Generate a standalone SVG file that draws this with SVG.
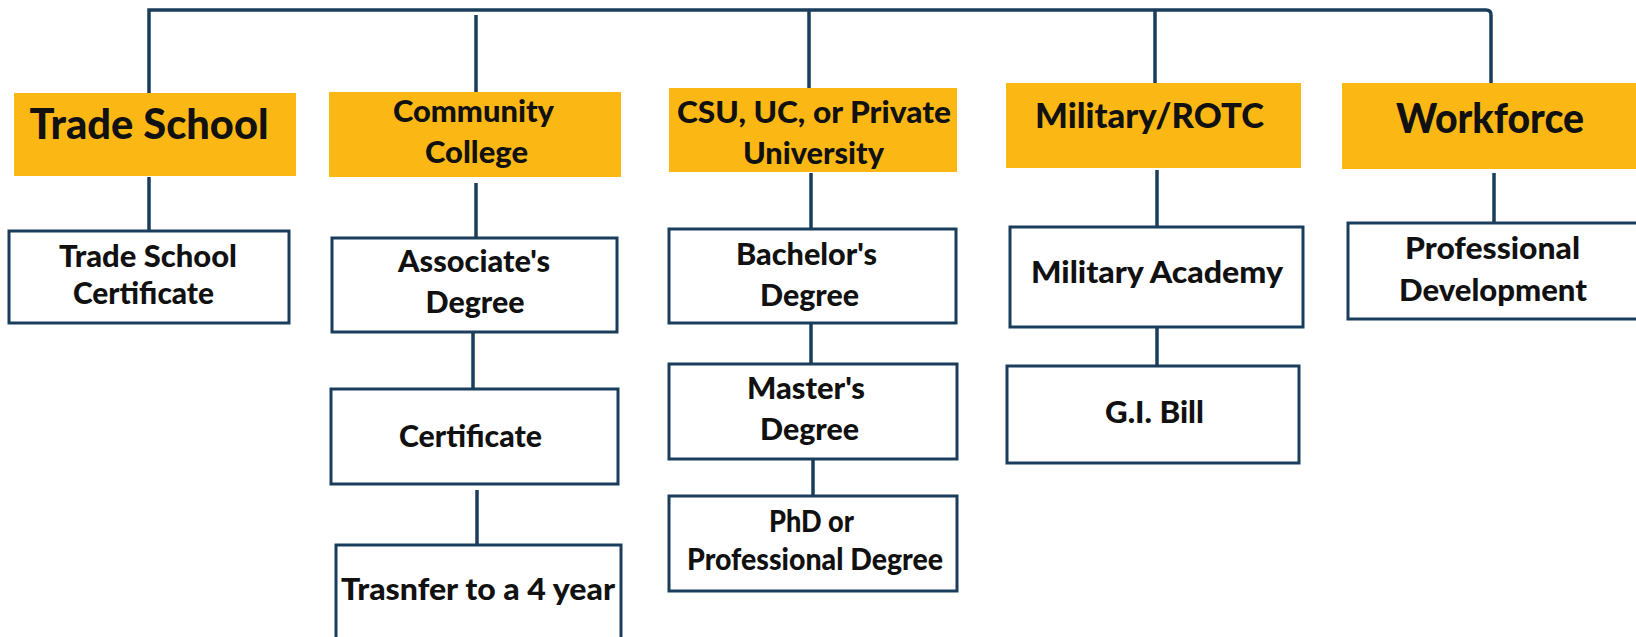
<svg xmlns="http://www.w3.org/2000/svg" width="1636" height="637" viewBox="0 0 1636 637">
<style>
.hdr{fill:#FBB814;stroke:none}
.box{fill:#FFFFFF;stroke:#1A3D5C;stroke-width:3}
.ln{fill:none;stroke:#1A3D5C;stroke-width:3.5;stroke-linecap:butt}
text{font-family:Lato,"Liberation Sans",sans-serif;font-weight:900;fill:#111111;text-anchor:middle}
.t30{font-size:30px}
.t31{font-size:31px}
</style>
<rect width="1636" height="637" fill="#FFFFFF"/>
<g id="connectors">
<path class="ln" d="M149,93 V10 H1486 Q1491,10 1491,15 V83"/>
<line class="ln" x1="476" y1="15" x2="476" y2="92"/>
<line class="ln" x1="809" y1="10" x2="809" y2="88"/>
<line class="ln" x1="1155" y1="10" x2="1155" y2="83"/>
<line class="ln" x1="149" y1="177" x2="149" y2="231"/>
<line class="ln" x1="476" y1="183" x2="476" y2="238"/>
<line class="ln" x1="473" y1="332" x2="473" y2="389"/>
<line class="ln" x1="477" y1="490" x2="477" y2="545"/>
<line class="ln" x1="811" y1="173" x2="811" y2="229"/>
<line class="ln" x1="811" y1="323" x2="811" y2="364"/>
<line class="ln" x1="813" y1="459" x2="813" y2="496"/>
<line class="ln" x1="1157" y1="170" x2="1157" y2="227"/>
<line class="ln" x1="1157" y1="327" x2="1157" y2="366"/>
<line class="ln" x1="1494" y1="173" x2="1494" y2="223"/>
</g>
<g id="trade-school">
<rect class="hdr" x="14" y="93" width="282" height="83"/>
<text x="149" y="139" font-size="42" textLength="239" lengthAdjust="spacingAndGlyphs">Trade School</text>
</g>
<g id="community-college">
<rect class="hdr" x="329" y="92" width="292" height="85"/>
<text class="t30" x="473.5" y="122" textLength="161" lengthAdjust="spacingAndGlyphs">Community</text>
<text class="t30" x="476.5" y="163" textLength="103" lengthAdjust="spacingAndGlyphs">College</text>
</g>
<g id="university">
<rect class="hdr" x="669" y="88" width="288" height="84"/>
<text class="t30" x="814" y="123" textLength="274" lengthAdjust="spacingAndGlyphs">CSU, UC, or Private</text>
<text class="t30" x="813.5" y="164" textLength="141" lengthAdjust="spacingAndGlyphs">University</text>
</g>
<g id="military">
<rect class="hdr" x="1006" y="83" width="295" height="85"/>
<text x="1149.5" y="128" font-size="35" textLength="229" lengthAdjust="spacingAndGlyphs">Military/ROTC</text>
</g>
<g id="workforce">
<rect class="hdr" x="1342" y="83" width="296" height="86"/>
<text x="1490" y="133" font-size="41" textLength="188" lengthAdjust="spacingAndGlyphs">Workforce</text>
</g>
<g id="trade-school-certificate">
<rect class="box" x="9" y="231" width="280" height="92"/>
<text class="t31" x="148" y="267" textLength="178" lengthAdjust="spacingAndGlyphs">Trade School</text>
<text class="t31" x="143.5" y="304" textLength="141" lengthAdjust="spacingAndGlyphs">Certificate</text>
</g>
<g id="associates-degree">
<rect class="box" x="332" y="238" width="285" height="94"/>
<text class="t31" x="474" y="272" textLength="152" lengthAdjust="spacingAndGlyphs">Associate's</text>
<text class="t31" x="475" y="313" textLength="99" lengthAdjust="spacingAndGlyphs">Degree</text>
</g>
<g id="certificate">
<rect class="box" x="331" y="389" width="287" height="95"/>
<text class="t31" x="470.5" y="447" textLength="143" lengthAdjust="spacingAndGlyphs">Certificate</text>
</g>
<g id="transfer">
<rect class="box" x="336" y="545" width="285" height="100"/>
<text class="t31" x="478" y="600" textLength="274" lengthAdjust="spacingAndGlyphs">Trasnfer to a 4 year</text>
</g>
<g id="bachelors-degree">
<rect class="box" x="669" y="229" width="287" height="94"/>
<text class="t31" x="806.5" y="265" textLength="141" lengthAdjust="spacingAndGlyphs">Bachelor's</text>
<text class="t31" x="809.5" y="306" textLength="99" lengthAdjust="spacingAndGlyphs">Degree</text>
</g>
<g id="masters-degree">
<rect class="box" x="669" y="364" width="288" height="95"/>
<text class="t31" x="806" y="399" textLength="118" lengthAdjust="spacingAndGlyphs">Master's</text>
<text class="t31" x="809.5" y="440" textLength="99" lengthAdjust="spacingAndGlyphs">Degree</text>
</g>
<g id="phd">
<rect class="box" x="669" y="496" width="288" height="95"/>
<text class="t31" x="811.5" y="532" textLength="85" lengthAdjust="spacingAndGlyphs">PhD or</text>
<text class="t31" x="815" y="570" textLength="256" lengthAdjust="spacingAndGlyphs">Professional Degree</text>
</g>
<g id="military-academy">
<rect class="box" x="1010" y="227" width="293" height="100"/>
<text class="t31" x="1157" y="283" textLength="252" lengthAdjust="spacingAndGlyphs">Military Academy</text>
</g>
<g id="gi-bill">
<rect class="box" x="1007" y="366" width="292" height="97"/>
<text class="t31" x="1154.5" y="423" textLength="99" lengthAdjust="spacingAndGlyphs">G.I. Bill</text>
</g>
<g id="professional-development">
<rect class="box" x="1348" y="223" width="296" height="96"/>
<text class="t31" x="1492.5" y="259" textLength="175" lengthAdjust="spacingAndGlyphs">Professional</text>
<text class="t31" x="1493" y="301" textLength="188" lengthAdjust="spacingAndGlyphs">Development</text>
</g>
</svg>
